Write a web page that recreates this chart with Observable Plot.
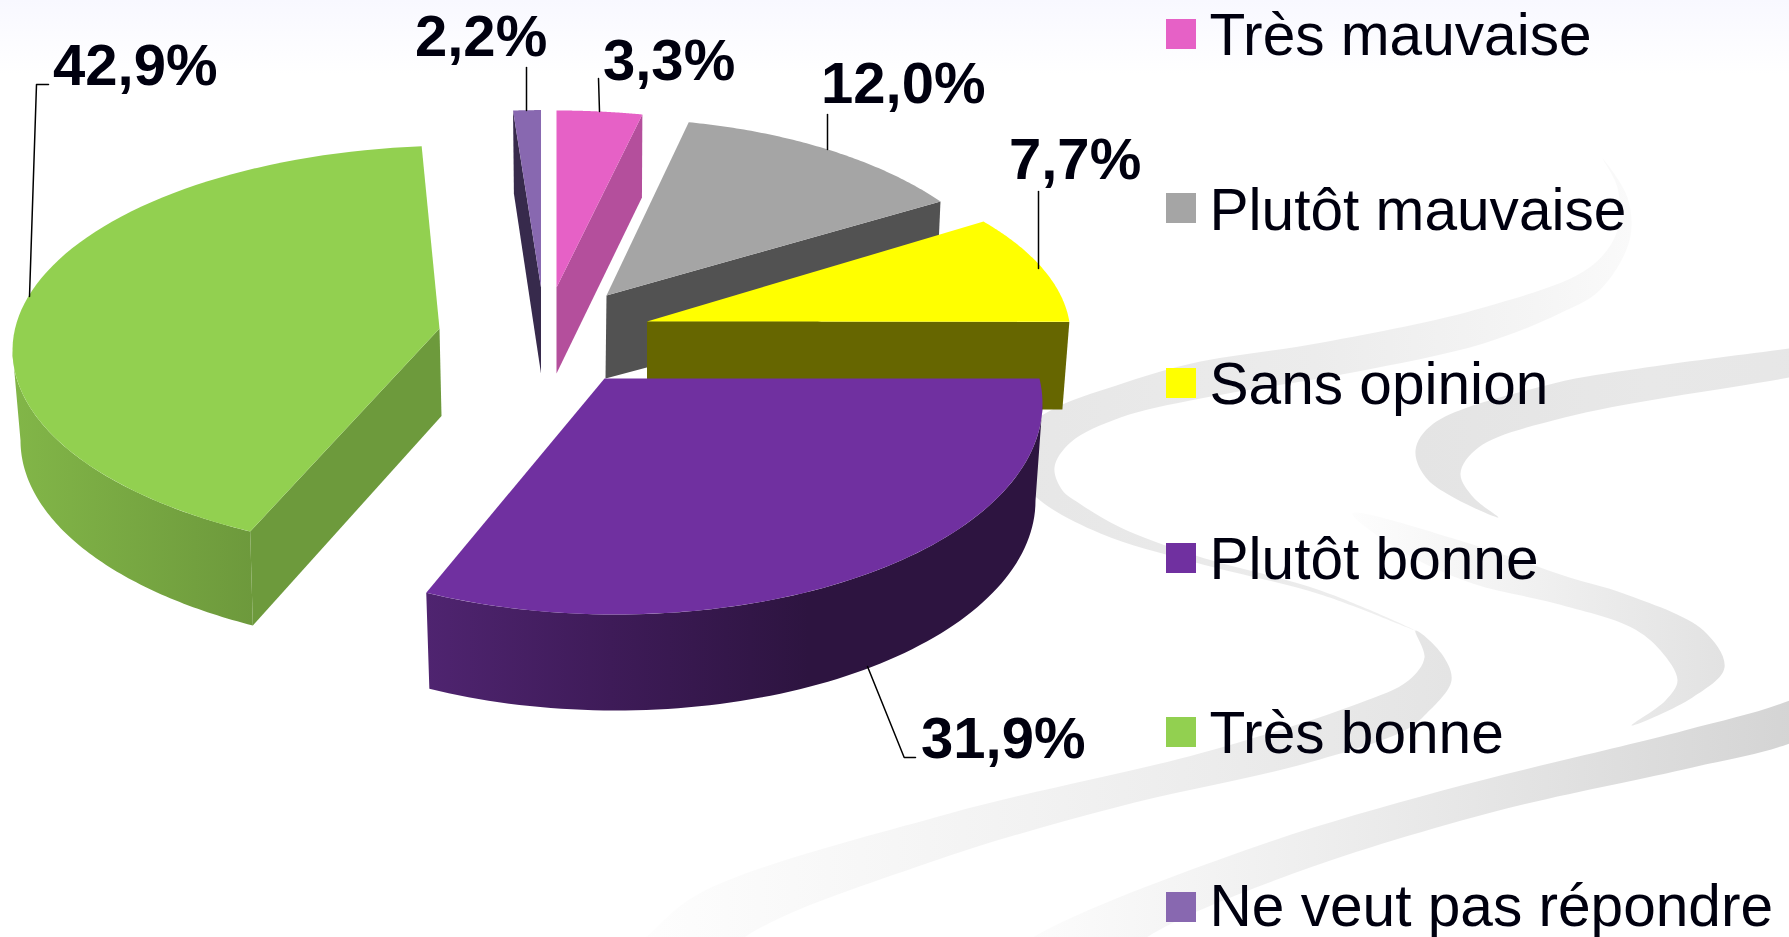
<!DOCTYPE html>
<html lang="fr">
<head>
<meta charset="utf-8">
<title>Opinion</title>
<script src="https://cdn.jsdelivr.net/npm/d3@7"></script>
<script src="https://cdn.jsdelivr.net/npm/@observablehq/plot@0.6"></script>
<style>
html,body{margin:0;padding:0;background:#fff;overflow:hidden}
svg{display:block}
</style>
</head>
<body>
<div id="chart"></div>
<script>
// ---------- data ----------
const categories = ["Très mauvaise", "Plutôt mauvaise", "Sans opinion", "Plutôt bonne", "Très bonne", "Ne veut pas répondre"];
const values = [3.3, 12.0, 7.7, 31.9, 42.9, 2.2];
const valueLabels = ["3,3%", "12,0%", "7,7%", "31,9%", "42,9%", "2,2%"];
const topColors = ["#e661c6", "#a5a5a5", "#ffff00", "#7030a0", "#92d050", "#8868b0"];
const cutColors = ["#b44f9c", "#525252", "#666600", "#2d1440", "#6d9a3c", "#372a4c"];

// ---------- drawing geometry (one exploded, perspective-flattened wedge per category) ----------
const apexTop = [[556,287],[606,295],[646.5,321],[604,378],[439,328],[540.5,287]];
const apexBottom = [[556,373],[605,378],[646.5,409],[604,470],[441,415.5],[540.5,373]];
// ellipse: cx, cy, rx, ry
const rimTop = [[556,300,420,190],[610,322,410,204],[645,335,425,188],[615,403,427,211],[460,350,448,205],[540.5,299.6,422,190]];
const rimBottom = [[556,383,418,190],[610,411,405,204],[645,423,418,190],[615,500,420,210],[458,440,438,209.5],[540.5,382.6,409,190]];
const startAngles = [-90, -79, -37.3, -6.8, 118, -93.8];
const stretch = [0.993, 0.986, 1.194, 1.072, 0.952, 0.48];
const cutSide = ["end", "end", "end", null, "start", "start"];
const paintOrder = [1, 0, 5, 4, 2, 3];

const labelAnchors = [[602.5,79],[820.5,102],[1008.5,178],[920.5,757],[52.5,84.5],[414.5,55]];
const leaders = [
  [[598,78],[599,111]],
  [[827,114],[827,149]],
  [[1038,191],[1038,268]],
  [[867,666],[903.7,757],[915,757]],
  [[48,84],[36,84],[29,296]],
  [[526,67],[526,110]]
];
const legendSwatchX = [1166, 1196];
const legendTextX = 1209;
const legendCenters = [34, 208, 383, 558, 732, 907];
const legendBaselines = [54, 229, 403, 578, 752, 925];

// ---------- decorative background ribbons (outline points; ends run past the page edge) ----------
const ribbonUpper = [[1602,158],[1627,197],[1629,240],[1599,290],[1559,313],[1483,343],[1352,372],[1200,398],[1120,417],[1070,442],[1054,467],[1062,490],[1079,503],[1120,527],[1195,555],[1320,590],[1415,630],[1320,594],[1195,562],[1100,533],[1036,497],[1000,450],[1050,410],[1116,385],[1191,363],[1322,342],[1483,307],[1589,267],[1617,230],[1617,187]];
const ribbonTail = [[1415,630],[1424,657],[1408,680],[1358,703],[1199,753],[949,813],[699,893],[645,937],[590,985],[700,985],[744,937],[926,863],[1115,807],[1305,763],[1404,730],[1426,713],[1451,680],[1441,653]];
const ribbonRight = [[1880,336],[1789,348],[1639,368],[1553,383],[1433,423],[1415,450],[1428,480],[1498,517],[1473,497],[1460,473],[1478,447],[1564,417],[1789,377],[1880,360]];
const ribbonLobe = [[1352,513],[1469,543],[1569,577],[1623,593],[1703,630],[1724,667],[1692,697],[1631,725],[1665,700],[1677,680],[1660,650],[1631,627],[1555,603],[1472,583],[1400,550]];
const ribbonBottom = [[1880,655],[1789,700],[1684,730],[1442,790],[1244,850],[1032,937],[970,985],[1090,985],[1146,937],[1282,877],[1487,813],[1692,767],[1789,743],[1880,700]];

// ---------- helpers ----------
const rad = d => d * Math.PI / 180;
const onRim = (e, t) => [e[0] + e[2] * Math.cos(rad(t)), e[1] + e[3] * Math.sin(rad(t))];
const arc = (e, a, b) => d3.range(0, 81).map(i => onRim(e, a + (b - a) * i / 80));
const angleSpan = i => [startAngles[i], startAngles[i] + values[i] * 3.6 * stretch[i]];
const poly = (points, fill, curve = "linear") =>
  Plot.line(points, {x: d => d[0], y: d => d[1], fill, stroke: "none", curve});
const ribbon = (points, fill) => poly(points, fill, "catmull-rom-closed");

const gradients = [
  ["bgTop", 0, 0, 0, 1, [[0, "#f8f8ff"], [1, "#ffffff"]]],
  ["rUpper", 0, 0, 1, 0, [[0, "#e6e6e6"], [0.5, "#ececec"], [0.85, "#f5f5f5"], [1, "#fafafa"]]],
  ["rTail", 1, 0, 0, 0, [[0, "#e4e4e4"], [0.45, "#f1f1f1"], [1, "#ffffff"]]],
  ["rRight", 0, 0, 1, 0, [[0, "#e4e4e4"], [0.5, "#e8e8e8"], [1, "#e6e6e6"]]],
  ["rLobe", 0, 0, 1, 0, [[0, "#fdfdfd"], [0.5, "#f0f0f0"], [1, "#e2e2e2"]]],
  ["rBottom", 1, 0, 0, 0, [[0, "#cfcfcf"], [0.45, "#e6e6e6"], [1, "#ffffff"]]],
  ["sidePurple", 0, 0, 1, 0, [[0, "#4f2470"], [0.3, "#3e1b58"], [0.62, "#2d1440"], [1, "#2d1440"]]],
  ["sideGreen", 0, 0, 1, 0, [[0, "#82b648"], [1, "#6d993c"]]]
];
const defsMark = () => {
  const defs = d3.create("svg:defs");
  for (const [id, x1, y1, x2, y2, stops] of gradients) {
    const g = defs.append("linearGradient").attr("id", id)
      .attr("x1", x1).attr("y1", y1).attr("x2", x2).attr("y2", y2);
    for (const [o, c] of stops) g.append("stop").attr("offset", o).attr("stop-color", c);
  }
  return defs.node();
};
const sideFill = {3: "url(#sidePurple)", 4: "url(#sideGreen)"};

// ---------- wedges ----------
const wedgeMarks = [];
for (const i of paintOrder) {
  const [a, b] = angleSpan(i);
  if (sideFill[i]) {
    const s = Math.max(a, 0), e = Math.min(b, 180);
    wedgeMarks.push(poly([...arc(rimTop[i], s, e), ...arc(rimBottom[i], s, e).reverse()], sideFill[i]));
  }
  if (cutSide[i]) {
    const t = cutSide[i] === "end" ? b : a;
    wedgeMarks.push(poly([apexTop[i], onRim(rimTop[i], t), onRim(rimBottom[i], t), apexBottom[i]], cutColors[i]));
  }
  wedgeMarks.push(poly([apexTop[i], ...arc(rimTop[i], a, b)], topColors[i]));
}

const ink = "#00000f";
const labelRows = valueLabels.map((t, i) => ({t, x: labelAnchors[i][0], y: labelAnchors[i][1]}));
const legendRows = categories.map((t, i) => ({t, c: legendCenters[i], b: legendBaselines[i], fill: topColors[i]}));

const chart = Plot.plot({
  width: 1789,
  height: 937,
  margin: 0,
  x: {domain: [0, 1789], range: [0, 1789], axis: null},
  y: {domain: [0, 937], range: [0, 937], axis: null},
  color: {type: "identity"},
  style: {background: "#fff", fontFamily: "'Liberation Sans', Arial, sans-serif"},
  marks: [
    defsMark,
    Plot.rect([0], {x1: () => 0, x2: () => 1789, y1: () => 0, y2: () => 75, fill: "url(#bgTop)"}),
    ribbon(ribbonUpper, "url(#rUpper)"),
    ribbon(ribbonTail, "url(#rTail)"),
    ribbon(ribbonRight, "url(#rRight)"),
    ribbon(ribbonLobe, "url(#rLobe)"),
    ribbon(ribbonBottom, "url(#rBottom)"),
    ...wedgeMarks,
    ...leaders.map(l => Plot.line(l, {x: d => d[0], y: d => d[1], stroke: "#000", strokeWidth: 1.5})),
    Plot.text(labelRows, {x: "x", y: "y", text: "t", textAnchor: "start", lineAnchor: "bottom", fontSize: 58, fontWeight: "bold", fill: ink}),
    Plot.rect(legendRows, {x1: () => legendSwatchX[0], x2: () => legendSwatchX[1], y1: d => d.c - 15, y2: d => d.c + 15, fill: "fill"}),
    Plot.text(legendRows, {x: () => legendTextX, y: "b", text: "t", textAnchor: "start", lineAnchor: "bottom", fontSize: 58.6, fill: ink})
  ]
});
document.getElementById("chart").append(chart);
</script>
</body>
</html>
